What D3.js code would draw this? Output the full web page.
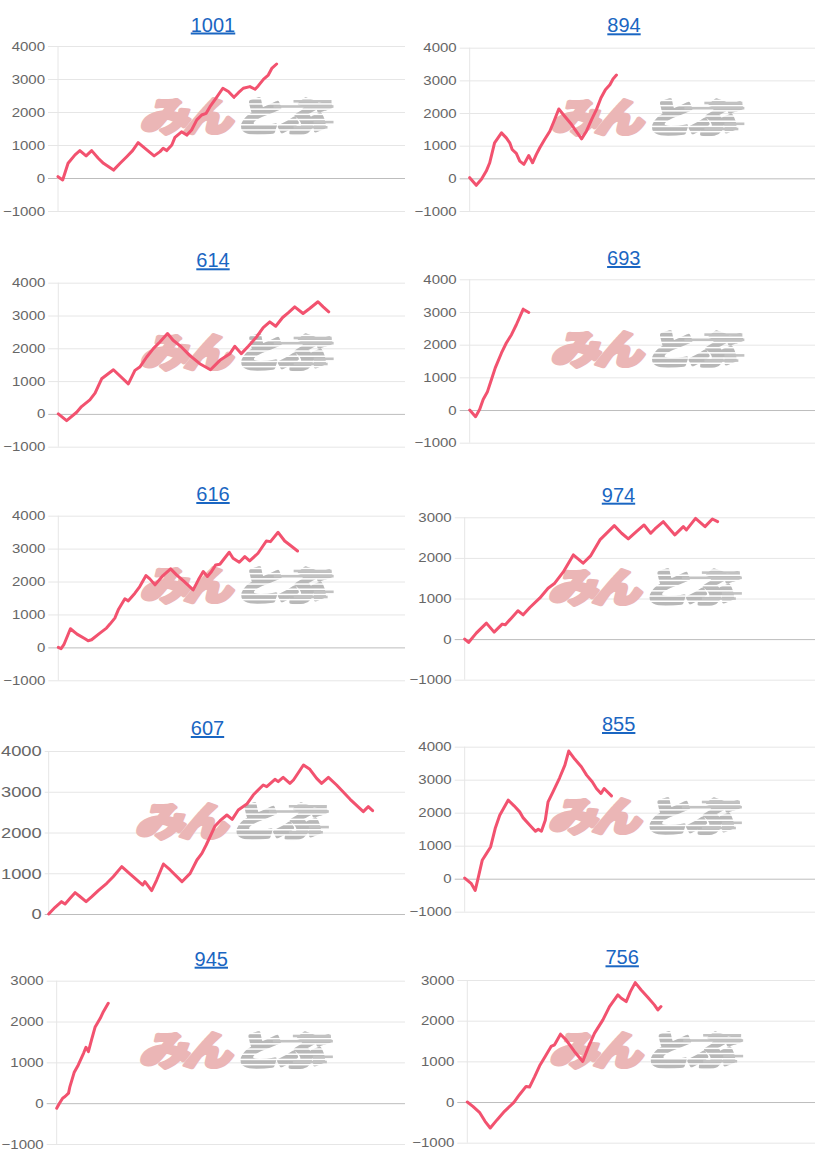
<!DOCTYPE html>
<html><head><meta charset="utf-8">
<script src="https://cdn.jsdelivr.net/npm/d3@7"></script>
<style>body{margin:0;background:#fff;} svg{display:block}</style>
</head><body>
<svg id="c" width="817" height="1165"></svg>
<script>
// ---------- DATA ----------
const titles = ["1001","894","614","693","616","974","607","855","945","756"];
const ticksA = [-1000,0,1000,2000,3000,4000];
const ticksB = [-1000,0,1000,2000,3000];
const ticksC = [0,1000,2000,3000,4000];

// [x position along the day axis (0-100), cumulative value]
const s1001 = [[0,40],[1.35,-60],[2.9,445],[4.9,700],[6.3,830],[8.1,670],[9.7,830],[11.6,600],[13.1,445],[16,240],[17.9,445],[19.8,645],[21.5,830],[23.1,1070],[25.6,850],[27.7,670],[29.4,800],[30.3,900],[31.3,830],[32.8,1000],[33.7,1230],[35.6,1400],[37.1,1300],[38.5,1455],[40,1760],[41.4,1910],[42.7,1960],[43.8,2160],[45.5,2415],[47.5,2720],[49.1,2620],[50.7,2445],[52,2585],[53.4,2720],[55.3,2770],[56.8,2690],[57.7,2790],[59.2,2990],[60.6,3120],[61.6,3320],[63,3455]];
const s894 = [[0,20],[1.9,-213],[3.4,-30],[4.8,222],[5.8,477],[7.2,1088],[9.2,1393],[10.6,1240],[11.6,1088],[12.3,884],[13.5,762],[14.5,528],[15.7,427],[17.1,701],[18.2,477],[19.3,732],[20.3,936],[21.7,1189],[23.2,1443],[24.4,1748],[25.8,2125],[27.5,1900],[29.5,1646],[32.4,1210],[33.8,1443],[35.3,1799],[36.7,2104],[38,2460],[39.3,2713],[40.6,2866],[41.5,3040],[42.5,3161]];
const s614 = [[0,0],[2.4,-204],[5.3,51],[6.7,224],[9.1,429],[10.6,633],[12.5,1071],[15.9,1347],[20.2,918],[22.1,1327],[23.5,1429],[25.5,1735],[27.4,1990],[29.3,2194],[31.5,2449],[33.1,2245],[35.5,2041],[37.9,1786],[40.8,1531],[43.9,1347],[46.6,1633],[49.5,1837],[50.9,2061],[52.8,1837],[54.8,2061],[57.2,2347],[59.1,2633],[61,2806],[62.7,2673],[64.7,2939],[66.3,3082],[68.2,3265],[70.6,3061],[72.5,3214],[74.9,3418],[76.4,3265],[78,3112]];
const s693 = [[0,0],[1.7,-203],[2.9,20],[3.9,325],[5.1,548],[6.3,934],[7.4,1289],[9.2,1746],[10.6,2051],[12.1,2305],[13.5,2609],[15.5,3086],[17.1,2985]];
const s616 = [[0,0],[0.8,-40],[1.6,81],[3.5,566],[5.4,404],[7.7,263],[8.6,202],[9.6,232],[12,434],[13.9,586],[14.9,707],[16.3,889],[17.3,1141],[19.2,1475],[20.2,1414],[22.1,1646],[23.5,1848],[25.3,2182],[26.4,2081],[27.9,1899],[30.2,2182],[32.4,2384],[34.1,2202],[36.1,2020],[38.9,1747],[40.4,2051],[41.8,2303],[43,2152],[44.2,2303],[45.4,2505],[46.6,2525],[49.3,2889],[50.4,2707],[52.2,2586],[53.8,2758],[55.2,2626],[57.6,2859],[60,3232],[61.2,3212],[63.4,3495],[65.3,3232],[66.8,3111],[69,2929]];
const s974 = [[0,0],[1.1,-82],[3.3,148],[6.2,393],[8.4,172],[10.7,369],[11.6,352],[13.3,516],[15.2,697],[16.7,598],[18.6,779],[21.4,1008],[23.8,1254],[25.7,1377],[28.1,1648],[31,2074],[33.8,1869],[36,2057],[38.6,2443],[42.7,2795],[44.8,2607],[46.7,2467],[49,2648],[51.2,2811],[53.1,2607],[54.3,2713],[56.7,2893],[60,2566],[62.4,2770],[63.3,2689],[65.9,2975],[68.6,2770],[70.7,2959],[72.2,2893]];
const s607 = [[0,0],[1.8,164],[3.6,303],[4.6,245],[6,384],[7.4,524],[8.6,442],[10.5,303],[12.1,425],[13.9,573],[16.3,753],[18.1,916],[20.5,1162],[22.8,982],[25.6,769],[26.4,712],[27,793],[28.9,573],[30.3,834],[32.2,1227],[34.1,1080],[37.4,793],[39.7,998],[41.6,1325],[43,1489],[44.2,1693],[45.3,1898],[46.7,2160],[48.1,2290],[50,2430],[51.5,2323],[53.2,2552],[55.6,2699],[57.4,2920],[60.2,3166],[61.2,3125],[63.5,3305],[64.4,3248],[65.8,3354],[67.7,3207],[68.7,3289],[71.5,3657],[73.3,3550],[75.2,3329],[76.6,3207],[78.5,3354],[80.8,3166],[84.6,2814],[88.3,2511],[89.7,2634],[90.9,2536]];
const s855 = [[0,20],[1.9,-152],[3,-354],[3.8,0],[5,557],[6.2,759],[7.4,962],[8.7,1519],[10,1924],[12.4,2380],[14.1,2208],[15.7,2025],[16.7,1843],[18.6,1620],[20.2,1438],[21,1499],[21.9,1438],[23,1772],[23.8,2329],[25.2,2633],[27.1,3058],[28.6,3443],[29.7,3868],[31.4,3625],[33.3,3392],[34.8,3139],[36.4,2937],[37.6,2734],[38.9,2582],[39.8,2734],[41.9,2511]];
const s945 = [[0,-122],[0.8,0],[1.7,122],[2.4,163],[3.4,245],[3.8,407],[5,750],[6.2,937],[7.7,1222],[8.4,1369],[9.1,1263],[10,1549],[11,1858],[12.5,2078],[13.4,2241],[14.8,2445]];
const s756 = [[0,0],[1.6,-106],[3.5,-253],[5.1,-474],[6.6,-638],[8.6,-433],[10.7,-229],[13.4,-8],[15,180],[16.9,384],[17.9,368],[19.3,613],[20.8,891],[22.4,1120],[24.1,1366],[25.1,1406],[26.8,1668],[28.4,1529],[30.8,1243],[33.2,998],[34.7,1325],[36.6,1693],[39,2020],[40.9,2347],[43.3,2633],[44.3,2551],[45.7,2469],[46.9,2715],[48.3,2935],[50,2755],[51.9,2576],[53.8,2388],[54.8,2265],[55.7,2347]];

const seriesList = [s1001,s894,s614,s693,s616,s974,s607,s855,s945,s756];
const tickList = [ticksA,ticksA,ticksA,ticksA,ticksA,ticksB,ticksC,ticksA,ticksB,ticksB];

// ---------- LAYOUT (positions only) ----------
const layout = [
  {l:58,   r:405, t:46,    b:211,   tx:213,   ty:31.5, tick:10, fs:15},
  {l:469.7,r:815, t:47.7,  b:211,   tx:624,   ty:32.3, tick:10, fs:15},
  {l:58.3, r:405, t:282.7, b:446.7, tx:213,   ty:267.3,tick:10, fs:15},
  {l:469.7,r:815, t:279.3, b:442.7, tx:623.8, ty:265,  tick:10, fs:15},
  {l:58.3, r:405, t:515.7, b:680.3, tx:213,   ty:501,  tick:10, fs:15},
  {l:464.7,r:815, t:517.3, b:679.7, tx:618.5, ty:501.7,tick:10, fs:15},
  {l:48.7, r:405, t:751,   b:914,   tx:207.5, ty:735,  tick:4,  fs:18.3},
  {l:464.7,r:815, t:746.7, b:911.7, tx:618.7, ty:731,  tick:10, fs:15},
  {l:56.7, r:405, t:980.7, b:1144,  tx:211.3, ty:965.7,tick:10, fs:15},
  {l:467.3,r:815, t:980,   b:1142.7,tx:622.2, ty:964.3,tick:10, fs:15}
];

const svg = d3.select("#c");
const defs = svg.append("defs");
// stripe mask for the watermark "speed" letters
const mask = defs.append("mask").attr("id","stripes").attr("maskUnits","userSpaceOnUse")
  .attr("x",-20).attr("y",-40).attr("width",160).attr("height",80);
mask.append("rect").attr("x",-20).attr("y",-40).attr("width",160).attr("height",80).attr("fill","#fff");
d3.range(-19, 20, 5.2).forEach(yy => mask.append("rect").attr("x",-20).attr("y",yy).attr("width",160).attr("height",1.5).attr("fill","#000"));

const FONT = "'Liberation Sans', Arial, Helvetica, sans-serif";
const JP = "'Noto Sans CJK JP', 'Noto Sans CJK SC', sans-serif";

layout.forEach((L, i) => {
  const ticks = tickList[i];
  const data = seriesList[i];
  const y = d3.scaleLinear().domain([d3.min(ticks), d3.max(ticks)]).range([L.b, L.t]);
  const x = d3.scaleLinear().domain([0,100]).range([L.l, L.r]);
  const g = svg.append("g");

  // title (link style)
  g.append("text").attr("x", L.tx).attr("y", L.ty).attr("text-anchor","middle")
    .attr("font-family", FONT).attr("font-size", 20).attr("fill", "#1a66c2")
    .attr("text-decoration","underline").text(titles[i]);

  // y axis with grid lines
  const axis = d3.axisLeft(y).tickValues(ticks).tickSize(-(L.r - L.l + L.tick)).tickPadding(3).tickFormat(d3.format("d"));
  const ag = g.append("g").attr("transform", `translate(${L.l - L.tick},0)`).call(axis);
  ag.select(".domain").remove();
  ag.selectAll(".tick line").attr("stroke", d => d === 0 ? "#bdbdbd" : "#e6e6e6").attr("stroke-width", 1);
  ag.selectAll(".tick text").attr("fill","#666").attr("font-family", FONT).attr("font-size", L.fs)
    .attr("transform","scale(1,0.85)");
  g.append("line").attr("x1", L.l).attr("x2", L.l).attr("y1", L.t).attr("y2", L.b)
    .attr("stroke","#e6e6e6").attr("stroke-width",1);

  // watermark
  const cx = (L.l + L.r) / 2 + 2, cy = L.t + 71;
  const wm = g.append("g").attr("transform", `translate(${cx},${cy})`);
  wm.append("text").attr("x",-2).attr("y",15).attr("text-anchor","end")
    .attr("font-family", JP).attr("font-weight",900).attr("font-size",44)
    .attr("transform","skewX(-16) scale(1.1,0.9)")
    .attr("fill","#ebb6b6").attr("stroke","#ebb6b6").attr("stroke-width",4).attr("stroke-linejoin","round")
    .attr("letter-spacing",-4).text("みん");
  const wm2 = wm.append("g").attr("mask","url(#stripes)");
  wm2.append("text").attr("x",4).attr("y",15).attr("text-anchor","start")
    .attr("font-family", JP).attr("font-weight",900).attr("font-size",44)
    .attr("transform","skewX(-16) scale(1.05,0.9)")
    .attr("fill","#b8b8b8").attr("stroke","#b8b8b8").attr("stroke-width",4).attr("stroke-linejoin","round")
    .attr("letter-spacing",-2).text("とぶ");
  // speed streaks
  [[-17,60,98],[-11.8,40,100],[3.8,80,100],[9,60,94]].forEach(s=>{
    wm.append("rect").attr("x", s[1]).attr("y", s[0]).attr("width", s[2]-s[1]).attr("height", 2.6).attr("fill","#c2c2c2");
  });

  // series line
  const line = d3.line().x(d => x(d[0])).y(d => y(d[1]));
  g.append("path").datum(data).attr("d", line).attr("fill","none")
    .attr("stroke","#f2526f").attr("stroke-width",3).attr("stroke-linejoin","round").attr("stroke-linecap","round");
});
</script>
</body></html>
